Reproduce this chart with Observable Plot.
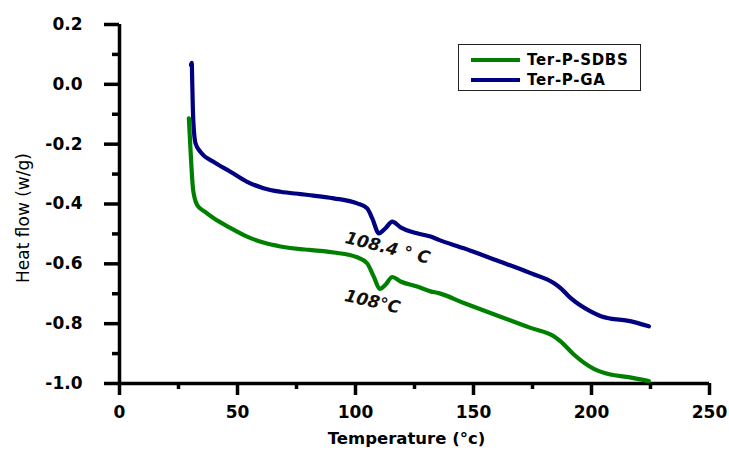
<!DOCTYPE html>
<html>
<head>
<meta charset="utf-8">
<script src="https://cdn.jsdelivr.net/npm/d3@7"></script>
<script src="https://cdn.jsdelivr.net/npm/@observablehq/plot@0.6"></script>
<style>
  html, body { margin: 0; padding: 0; background: #fff; }
  #wrap { position: relative; width: 729px; height: 459px; }
  #legend {
    position: absolute; left: 458px; top: 44px; width: 181px; height: 45px;
    border: 1.5px solid #222; background: #fff;
    font-family: "DejaVu Sans", sans-serif; font-weight: bold; font-size: 15px; letter-spacing: 0.7px;
  }
  .row { position: absolute; left: 12px; height: 20px; display: flex; align-items: center; }
  .sw { width: 49px; height: 4.5px; margin-right: 7px; }
</style>
</head>
<body>
<div id="wrap"></div>
<script>
// Series names and colours
const seriesNames = ["Ter-P-SDBS", "Ter-P-GA"];
const seriesColors = ["#008000", "#000080"];

// Ter-P-GA (blue)
const tempGA = [30.3, 30.6, 30.9, 31.2, 32.2, 34.3, 39.8, 47.0, 54.1, 61.0, 68.2, 76.7, 80.1, 90.8, 100.7, 104.9, 107.1, 109.9, 112.7, 115.6, 119.1, 126.1, 131.8, 135.3, 145.9, 160.0, 174.2, 184.0, 186.9, 191.1, 199.6, 204.0, 208.0, 215.1, 224.3];
const flowGA = [0.065, 0.072, -0.02, -0.109, -0.197, -0.226, -0.259, -0.292, -0.326, -0.347, -0.359, -0.367, -0.370, -0.381, -0.398, -0.414, -0.448, -0.498, -0.481, -0.459, -0.478, -0.498, -0.509, -0.520, -0.548, -0.589, -0.631, -0.664, -0.681, -0.714, -0.759, -0.775, -0.783, -0.790, -0.809];

// Ter-P-SDBS (green)
const tempSDBS = [29.4, 30.1, 31.2, 32.9, 36.0, 39.8, 47.0, 54.1, 61.0, 68.2, 76.7, 80.1, 90.8, 100.7, 104.9, 107.7, 110.3, 112.7, 115.6, 119.1, 126.1, 131.8, 135.3, 145.9, 160.0, 174.2, 184.0, 186.9, 192.5, 201.0, 208.0, 215.1, 224.3];
const flowSDBS = [-0.114, -0.220, -0.353, -0.403, -0.425, -0.447, -0.480, -0.509, -0.529, -0.542, -0.551, -0.553, -0.562, -0.578, -0.598, -0.642, -0.684, -0.670, -0.644, -0.659, -0.676, -0.692, -0.698, -0.731, -0.773, -0.814, -0.842, -0.859, -0.903, -0.951, -0.970, -0.978, -0.992];

// Ticks
const xMajor = [0, 50, 100, 150, 200, 250];
const xMinor = [25, 75, 125, 175, 225];
const yMajor = [0.2, 0.0, -0.2, -0.4, -0.6, -0.8, -1.0];
const yMinor = [0.1, -0.1, -0.3, -0.5, -0.7, -0.9];

// Peak annotations
const peakLabels = ["108.4 ° C", "108°C"];
const peakX = [113.6, 107.2];
const peakY = [-0.547, -0.727];
const peakAngle = [14, 13];

const xLabel = "Temperature (°c)";
const yLabel = "Heat flow (w/g)";

const ga = tempGA.map((t, i) => ({t, f: flowGA[i]}));
const sdbs = tempSDBS.map((t, i) => ({t, f: flowSDBS[i]}));
const peaks = peakLabels.map((s, i) => ({s, x: peakX[i], y: peakY[i], r: peakAngle[i]}));

const AX = 3.5;
const chart = Plot.plot({
  width: 729, height: 459,
  marginLeft: 119, marginRight: 20, marginTop: 24, marginBottom: 76,
  x: {domain: [0, 250]},
  y: {domain: [-1, 0.2]},
  style: {fontFamily: "DejaVu Sans, sans-serif", background: "#fff", color: "#000"},
  marks: [
    Plot.axisX(xMinor, {tickSize: 6, strokeWidth: AX, tickFormat: () => "", label: null}),
    Plot.axisY(yMinor, {tickSize: 7, strokeWidth: AX, tickFormat: () => "", label: null}),
    Plot.axisX(xMajor, {tickSize: 12, tickPadding: 10, strokeWidth: AX, fontSize: 17, fontWeight: "bold", tickFormat: d => String(d), label: null}),
    Plot.axisY(yMajor, {tickSize: 15, tickPadding: 22, strokeWidth: AX, fontSize: 17, fontWeight: "bold", tickFormat: d => d.toFixed(1), label: null}),
    Plot.ruleY([-1], {strokeWidth: AX}),
    Plot.ruleX([0], {strokeWidth: AX}),
    Plot.line(sdbs, {x: "t", y: "f", stroke: seriesColors[0], strokeWidth: 4.2, strokeLinejoin: "round", curve: "monotone-x"}),
    Plot.line(ga, {x: "t", y: "f", stroke: seriesColors[1], strokeWidth: 4.2, strokeLinejoin: "round", curve: "monotone-x"}),
    Plot.text(peaks, {x: "x", y: "y", text: "s", rotate: "r", fontSize: 17, fontWeight: "bold", fontStyle: "italic", fill: "#111"}),
    Plot.text([xLabel], {frameAnchor: "bottom", dy: 60, dx: -8, fontSize: 16.5, fontWeight: "bold"}),
    Plot.text([yLabel], {frameAnchor: "left", textAnchor: "middle", rotate: -90, dx: -96, dy: 14, fontSize: 17})
  ]
});

const wrap = document.getElementById("wrap");
wrap.appendChild(chart);

const legend = document.createElement("div");
legend.id = "legend";
seriesNames.forEach((n, i) => {
  const row = document.createElement("div");
  row.className = "row";
  row.style.top = (5 + i * 20) + "px";
  const sw = document.createElement("span");
  sw.className = "sw";
  sw.style.background = seriesColors[i];
  const tx = document.createElement("span");
  tx.textContent = n;
  row.appendChild(sw); row.appendChild(tx);
  legend.appendChild(row);
});
wrap.appendChild(legend);
</script>
</body>
</html>
